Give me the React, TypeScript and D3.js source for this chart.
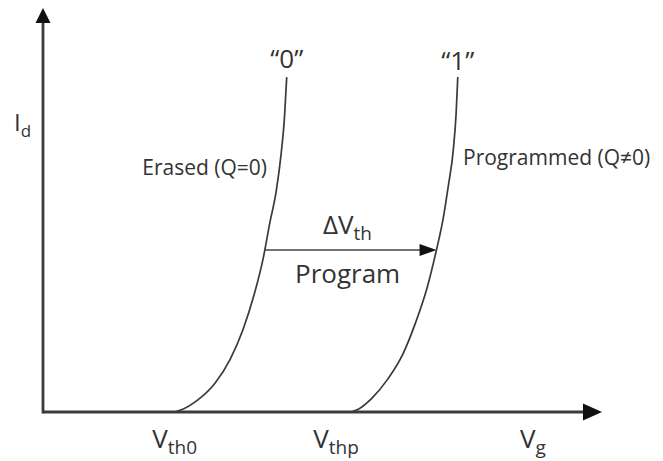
import React from "react";
import * as d3 from "d3";

const W = 663;
const H = 461;

// Transfer characteristics (gate voltage vs. drain current, arbitrary units)
const erasedVg = [3.4, 23.3, 25.0, 27.7, 30.8, 33.5, 35.8, 37.8, 39.4, 40.6, 41.7, 42.6, 43.2, 43.6];
const erasedId = [0, 0, 0.7, 3.0, 7.2, 13.1, 20.5, 29.2, 38.1, 47.0, 54.5, 63.9, 73.0, 82.9];
const programmedVg = [34.7, 54.6, 56.4, 58.9, 61.7, 64.4, 66.7, 68.7, 70.3, 71.6, 72.5, 73.4, 73.9, 74.2];
const programmedId = [0, 0, 0.7, 3.5, 8.2, 14.4, 22.3, 30.7, 39.6, 48.0, 55.9, 64.9, 73.8, 82.9];

// Threshold voltages and the threshold shift arrow
const vth0 = 23.3;
const vthp = 54.6;
const shiftLevel = 40.1;
const shiftFrom = 39.6;
const shiftTo = 70.4;

const axisMax = 100;

const INK = "#333";
const FONT = "'Open Sans', 'Noto Sans', sans-serif";

export default function App() {
  const x = d3.scaleLinear().domain([0, axisMax]).range([43, 602]);
  const y = d3.scaleLinear().domain([0, axisMax]).range([412, 8]);

  const line = d3
    .line<[number, number]>()
    .x((d) => x(d[0]))
    .y((d) => y(d[1]))
    .curve(d3.curveMonotoneX);

  const erased = erasedVg.map((v, i) => [v, erasedId[i]] as [number, number]);
  const programmed = programmedVg.map((v, i) => [v, programmedId[i]] as [number, number]);

  const x0 = x(0);
  const y0 = y(0);
  const xEnd = x(axisMax);
  const yEnd = y(axisMax);

  const topErased = erased[erased.length - 1];
  const topProgrammed = programmed[programmed.length - 1];

  const arrowY = y(shiftLevel);
  const arrowX0 = x(shiftFrom);
  const arrowX1 = x(shiftTo);

  return (
    <svg width={W} height={H} style={{ position: "absolute", left: 0, top: 0, background: "#fff" }}>
      {/* curves */}
      <path d={line(erased) ?? ""} fill="none" stroke="#3a3a3a" strokeWidth={1.7} />
      <path d={line(programmed) ?? ""} fill="none" stroke="#3a3a3a" strokeWidth={1.7} />

      {/* axes */}
      <line x1={x0} y1={y0} x2={xEnd - 16} y2={y0} stroke="#3c3c3c" strokeWidth={2.8} />
      <path d={`M${xEnd},${y0} L${xEnd - 19},${y0 - 8.5} L${xEnd - 19},${y0 + 8.5} Z`} fill="#111" />
      <line x1={x0} y1={y0 + 1.4} x2={x0} y2={yEnd + 12} stroke="#3c3c3c" strokeWidth={2.8} />
      <path d={`M${x0},${yEnd} L${x0 - 7.5},${yEnd + 15} L${x0 + 7.5},${yEnd + 15} Z`} fill="#111" />

      {/* threshold shift arrow */}
      <line x1={arrowX0} y1={arrowY} x2={arrowX1 - 14} y2={arrowY} stroke="#444" strokeWidth={1.6} />
      <path d={`M${arrowX1},${arrowY} L${arrowX1 - 17},${arrowY - 6} L${arrowX1 - 17},${arrowY + 6} Z`} fill="#111" />

      <g fontFamily={FONT} fill={INK}>
        {/* axis titles */}
        <text x={14} y={131} fontSize={24}>
          I<tspan fontSize={17} dy={6}>d</tspan>
        </text>
        <text x={520} y={448} fontSize={26}>
          V<tspan fontSize={19} dy={6}>g</tspan>
        </text>

        {/* threshold labels */}
        <text x={x(vth0) - 21} y={448} fontSize={26}>
          V<tspan fontSize={19} dy={6}>th0</tspan>
        </text>
        <text x={x(vthp) - 35} y={448} fontSize={26}>
          V<tspan fontSize={19} dy={6}>thp</tspan>
        </text>

        {/* state labels */}
        <text x={x(topErased[0])} y={68} fontSize={26} textAnchor="middle">
          “0”
        </text>
        <text x={x(topProgrammed[0])} y={70} fontSize={26} textAnchor="middle">
          “1”
        </text>
        <text x={267} y={175} fontSize={21} textAnchor="end">
          Erased (Q=0)
        </text>
        <text x={463} y={165} fontSize={21}>
          Programmed (Q≠0)
        </text>

        {/* shift annotation */}
        <text x={323} y={234} fontSize={26}>
          ΔV<tspan fontSize={19} dy={6}>th</tspan>
        </text>
        <text x={295} y={283} fontSize={26}>
          Program
        </text>
      </g>
    </svg>
  );
}
